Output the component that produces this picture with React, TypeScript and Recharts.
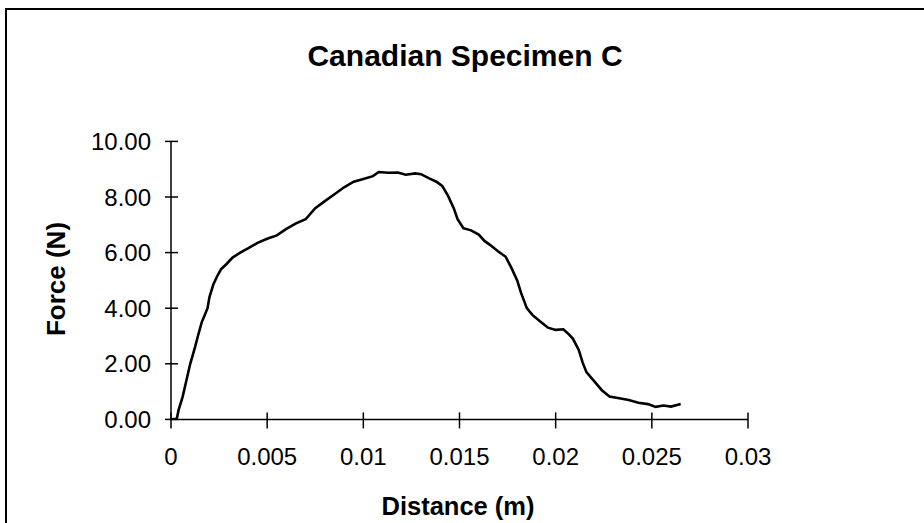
import React from 'react';
import { LineChart, Line, XAxis, YAxis, Label } from 'recharts';

const distance = [
  0, 0.0003, 0.0004, 0.0006, 0.0008, 0.001, 0.00125, 0.0014, 0.0016, 0.00175,
  0.0019, 0.002, 0.0022, 0.0024, 0.0026, 0.0029, 0.0032, 0.0036, 0.004, 0.0045,
  0.005, 0.0055, 0.006, 0.0065, 0.007, 0.0075, 0.008, 0.0085, 0.009, 0.0095,
  0.01, 0.0105, 0.0108, 0.0113, 0.0118, 0.0122, 0.0127, 0.013, 0.0134, 0.0138,
  0.0141, 0.0144, 0.0147, 0.0149, 0.0152, 0.0156, 0.016, 0.0163, 0.0166, 0.017,
  0.0174, 0.0177, 0.018, 0.0182, 0.0185, 0.0188, 0.0192, 0.0196, 0.02, 0.0204,
  0.0207, 0.0209, 0.0212, 0.0214, 0.0216, 0.022, 0.0224, 0.0228, 0.0233, 0.0238,
  0.0243, 0.0248, 0.0252, 0.0256, 0.026, 0.0265,
];
const force = [
  0, 0.02, 0.35, 0.8, 1.4, 2.0, 2.6, 3.0, 3.5, 3.75,
  4.0, 4.4, 4.85, 5.15, 5.4, 5.6, 5.82, 6.0, 6.15, 6.35,
  6.5, 6.62, 6.85, 7.05, 7.2, 7.6, 7.85, 8.1, 8.35, 8.55,
  8.65, 8.75, 8.9, 8.87, 8.88, 8.8, 8.85, 8.82, 8.68, 8.55,
  8.4, 8.05, 7.6, 7.2, 6.88, 6.8, 6.65, 6.42, 6.27, 6.05,
  5.85, 5.45, 5.0, 4.55, 4.0, 3.75, 3.52, 3.3, 3.22, 3.24,
  3.05, 2.9, 2.5, 2.05, 1.7, 1.38, 1.05, 0.82, 0.76, 0.7,
  0.6, 0.55, 0.45, 0.5, 0.46, 0.55,
];
const xTicks = [0, 0.005, 0.01, 0.015, 0.02, 0.025, 0.03];
const xTickLabels = ['0', '0.005', '0.01', '0.015', '0.02', '0.025', '0.03'];
const yTicks = [0, 2, 4, 6, 8, 10];
const yTickLabels = ['0.00', '2.00', '4.00', '6.00', '8.00', '10.00'];
const title = 'Canadian Specimen C';
const xTitle = 'Distance (m)';
const yTitle = 'Force (N)';

const data = distance.map((d, i) => ({ d, f: force[i] }));
const FONT = '"Liberation Sans", Arial, sans-serif';

const YTick = (props: any) => {
  const { x, y, payload } = props;
  const idx = yTicks.indexOf(payload.value);
  return (
    <g>
      <line x1={x - 6} x2={x + 7} y1={y} y2={y} stroke="#000" strokeWidth={1.5} />
      <text x={x - 20} y={y + 8.5} textAnchor="end" fontFamily={FONT} fontSize={24} fill="#000">
        {idx >= 0 ? yTickLabels[idx] : payload.value}
      </text>
    </g>
  );
};

const XTick = (props: any) => {
  const { x, y, payload } = props;
  const idx = xTicks.indexOf(payload.value);
  return (
    <g>
      <line x1={x} x2={x} y1={y - 7} y2={y + 9} stroke="#000" strokeWidth={1.5} />
      <text x={x} y={y + 45.5} textAnchor="middle" fontFamily={FONT} fontSize={24} fill="#000">
        {idx >= 0 ? xTickLabels[idx] : payload.value}
      </text>
    </g>
  );
};

export default function App() {
  return (
    <div style={{ position: 'absolute', left: 0, top: 0, width: 924, height: 523, background: '#fff', overflow: 'hidden' }}>
      <div
        style={{
          position: 'absolute', left: 5, top: 8, right: -5, bottom: -5,
          borderTop: '2px solid #000', borderLeft: '2px solid #000',
        }}
      />
      <div
        style={{
          position: 'absolute', left: 0, top: 41, width: 930, textAlign: 'center',
          fontFamily: FONT, fontWeight: 'bold', fontSize: 30, lineHeight: '30px', color: '#000',
        }}
      >
        {title}
      </div>
      <div style={{ position: 'absolute', left: 0, top: 0 }}>
        <LineChart
          width={924}
          height={523}
          data={data}
          margin={{ top: 141.4, right: 176, bottom: 53.6, left: 91 }}
        >
          <XAxis
            dataKey="d"
            type="number"
            domain={[0, 0.03]}
            ticks={xTicks}
            interval={0}
            height={50}
            axisLine={{ stroke: '#000', strokeWidth: 1.5 }}
            tickLine={false}
            tickSize={0}
            tickMargin={0}
            tick={<XTick />}
            allowDataOverflow
          >
            <Label
              content={() => (
                <text x={458} y={515} textAnchor="middle" fontFamily={FONT} fontWeight="bold" fontSize={25.5} fill="#000">
                  {xTitle}
                </text>
              )}
            />
          </XAxis>
          <YAxis
            type="number"
            domain={[0, 10]}
            ticks={yTicks}
            interval={0}
            width={80}
            axisLine={{ stroke: '#000', strokeWidth: 1.5 }}
            tickLine={false}
            tickSize={0}
            tickMargin={0}
            tick={<YTick />}
            allowDataOverflow
          >
            <Label
              content={() => (
                <text
                  x={65}
                  y={279}
                  textAnchor="middle"
                  transform="rotate(-90, 65, 279)"
                  fontFamily={FONT}
                  fontWeight="bold"
                  fontSize={26}
                  fill="#000"
                >
                  {yTitle}
                </text>
              )}
            />
          </YAxis>
          <Line
            dataKey="f"
            type="linear"
            stroke="#000"
            strokeWidth={2.6}
            dot={false}
            isAnimationActive={false}
          />
        </LineChart>
      </div>
    </div>
  );
}
